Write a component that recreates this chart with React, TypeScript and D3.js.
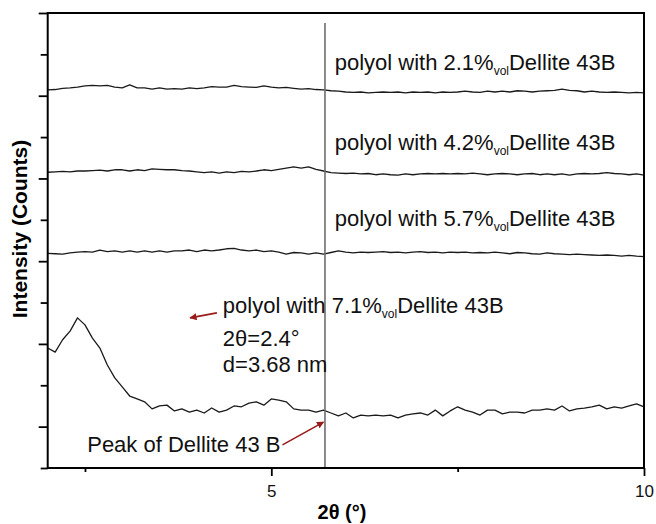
import React, { useEffect, useRef } from "react";
import * as d3 from "d3";

// 2theta grid (degrees)
const twoTheta: number[] = d3.range(81).map((i) => +(2 + i * 0.1).toFixed(1));

// intensities (counts, offset traces)
const vol21 = [
  914, 915, 918, 919, 921, 924, 925, 924, 925, 921, 919, 926, 919, 919, 916, 919, 916, 917, 916, 919,
  917, 919, 922, 921, 921, 925, 922, 921, 920, 924, 921, 919, 920, 918, 916, 917, 915, 914, 912, 911,
  909, 908, 909, 907, 908, 909, 908, 909, 907, 909, 908, 909, 907, 909, 908, 909, 911, 909, 908, 911,
  909, 911, 909, 912, 911, 909, 911, 912, 913, 916, 913, 912, 909, 911, 909, 908, 909, 908, 907, 908,
  907,
];
const vol42 = [
  715, 716, 717, 716, 718, 718, 719, 720, 718, 721, 721, 718, 721, 719, 723, 722, 721, 721, 719, 718,
  716, 714, 716, 713, 716, 714, 717, 716, 718, 721, 719, 722, 725, 728, 725, 728, 722, 718, 714, 713,
  712, 713, 711, 712, 709, 711, 709, 708, 711, 709, 711, 712, 711, 712, 711, 712, 711, 713, 711, 709,
  711, 712, 711, 709, 711, 712, 709, 711, 709, 711, 708, 711, 712, 711, 712, 714, 712, 711, 709, 711,
  708,
];
const vol57 = [
  519, 518, 517, 520, 522, 523, 522, 527, 523, 525, 522, 525, 522, 525, 522, 525, 522, 525, 525, 527,
  523, 527, 525, 527, 530, 531, 527, 525, 527, 523, 525, 522, 517, 521, 520, 517, 520, 517, 521, 525,
  522, 520, 522, 521, 522, 523, 521, 522, 520, 522, 523, 521, 522, 520, 522, 521, 522, 520, 521, 520,
  522, 520, 518, 521, 520, 518, 517, 520, 518, 517, 516, 517, 516, 515, 514, 515, 514, 512, 514, 512,
  511,
];
const vol71 = [
  290, 280, 310, 331, 363, 346, 314, 290, 249, 218, 196, 174, 167, 160, 143, 150, 152, 138, 143, 135,
  140, 133, 145, 135, 140, 150, 148, 157, 160, 152, 167, 164, 160, 143, 140, 140, 135, 140, 133, 126,
  133, 121, 128, 126, 128, 126, 128, 121, 128, 131, 133, 128, 140, 126, 138, 148, 140, 135, 128, 140,
  140, 131, 135, 135, 133, 140, 140, 143, 140, 150, 138, 143, 145, 148, 152, 143, 148, 145, 150, 155,
  148,
];

const traces = [vol21, vol42, vol57, vol71];
const loadings = ["2.1", "4.2", "5.7", "7.1"];
// label anchor [2theta, counts] for each trace label
const labelX = [5.85, 5.85, 5.85, 4.35];
const labelY = [962, 770, 586, 375];

const peakLine = 5.72;
const peakText = ["2θ=2.4°", "d=3.68 nm"];

const W = 656;
const H = 524;
const FONT = "'Liberation Sans', Arial, Helvetica, sans-serif";
const ARROW = "#9b1b1b";

export default function App() {
  const ref = useRef<SVGSVGElement>(null);

  useEffect(() => {
    const svg = d3.select(ref.current);
    svg.selectAll("*").remove();

    const x = d3.scaleLinear().domain([2, 10]).range([47.7, 644]);
    const y = d3.scaleLinear().domain([0, 1100]).range([468, 13]);

    svg
      .append("defs")
      .append("marker")
      .attr("id", "head")
      .attr("viewBox", "0 0 10 10")
      .attr("refX", 9)
      .attr("refY", 5)
      .attr("markerWidth", 4.5)
      .attr("markerHeight", 4.5)
      .attr("orient", "auto")
      .attr("markerUnits", "strokeWidth")
      .append("path")
      .attr("d", "M0,0L10,5L0,10Z")
      .attr("fill", ARROW);

    // traces
    const line = d3
      .line<number>()
      .x((d, i) => x(twoTheta[i]))
      .y((d) => y(d));

    svg
      .append("g")
      .selectAll("path")
      .data(traces)
      .enter()
      .append("path")
      .attr("d", (d) => line(d))
      .attr("fill", "none")
      .attr("stroke", "#1a1a1a")
      .attr("stroke-width", 1.3)
      .attr("stroke-linejoin", "round");

    // vertical marker line
    svg
      .append("line")
      .attr("x1", x(peakLine))
      .attr("x2", x(peakLine))
      .attr("y1", y(1076))
      .attr("y2", y(0))
      .attr("stroke", "#6e6e6e")
      .attr("stroke-width", 1.6);

    // frame
    svg
      .append("rect")
      .attr("x", x(2))
      .attr("y", y(1100))
      .attr("width", x(10) - x(2))
      .attr("height", y(0) - y(1100))
      .attr("fill", "none")
      .attr("stroke", "#000")
      .attr("stroke-width", 2);

    // y axis ticks
    const yMinor = d3.range(0, 1101, 200);
    const yMajor = d3.range(100, 1101, 200);
    const yAxisMinor = svg
      .append("g")
      .attr("transform", `translate(${x(2)},0)`)
      .call(d3.axisLeft(y).tickValues(yMinor).tickSize(7).tickFormat(() => ""));
    const yAxisMajor = svg
      .append("g")
      .attr("transform", `translate(${x(2)},0)`)
      .call(d3.axisLeft(y).tickValues(yMajor).tickSize(9).tickFormat(() => ""));

    // x axis ticks
    const xAxisMinor = svg
      .append("g")
      .attr("transform", `translate(0,${y(0)})`)
      .call(d3.axisBottom(x).tickValues([2.5, 7.5]).tickSize(4).tickFormat(() => ""));
    const xAxisMajor = svg
      .append("g")
      .attr("transform", `translate(0,${y(0)})`)
      .call(d3.axisBottom(x).tickValues([5, 10]).tickSize(8).tickPadding(9).tickFormat(d3.format("d")));

    [yAxisMinor, yAxisMajor, xAxisMinor, xAxisMajor].forEach((g) => {
      g.select(".domain").remove();
      g.selectAll(".tick line").attr("stroke", "#000").attr("stroke-width", 1.8);
      g.selectAll(".tick text").attr("font-family", FONT).attr("font-size", 17).attr("fill", "#111");
    });

    // axis titles
    svg
      .append("text")
      .attr("x", 342)
      .attr("y", 519)
      .attr("text-anchor", "middle")
      .attr("font-family", FONT)
      .attr("font-weight", "bold")
      .attr("font-size", 20)
      .text("2θ (°)");

    svg
      .append("text")
      .attr("transform", "translate(27,229) rotate(-90)")
      .attr("text-anchor", "middle")
      .attr("font-family", FONT)
      .attr("font-weight", "bold")
      .attr("font-size", 21)
      .text("Intensity (Counts)");

    // trace labels
    loadings.forEach((p, i) => {
      const t = svg
        .append("text")
        .attr("x", x(labelX[i]))
        .attr("y", y(labelY[i]))
        .attr("font-family", FONT)
        .attr("font-size", 22)
        .attr("fill", "#111");
      t.append("tspan").text(`polyol with ${p}%`);
      t.append("tspan").attr("font-size", 12).attr("dy", 5).text("vol");
      t.append("tspan").attr("dy", -5).text("Dellite 43B");
    });

    peakText.forEach((s, i) => {
      svg
        .append("text")
        .attr("x", x(4.35))
        .attr("y", y(i === 0 ? 295 : 232))
        .attr("font-family", FONT)
        .attr("font-size", 22)
        .attr("fill", "#111")
        .text(s);
    });

    svg
      .append("text")
      .attr("x", x(2.53))
      .attr("y", y(39))
      .attr("font-family", FONT)
      .attr("font-size", 22)
      .attr("fill", "#111")
      .text("Peak of Dellite 43 B");

    // arrows
    const arrows = [
      [4.27, 375, 3.91, 363],
      [5.15, 56, 5.7, 111],
    ];
    svg
      .append("g")
      .selectAll("line")
      .data(arrows)
      .enter()
      .append("line")
      .attr("x1", (d) => x(d[0]))
      .attr("y1", (d) => y(d[1]))
      .attr("x2", (d) => x(d[2]))
      .attr("y2", (d) => y(d[3]))
      .attr("stroke", ARROW)
      .attr("stroke-width", 1.6)
      .attr("marker-end", "url(#head)");
  }, []);

  return (
    <div style={{ position: "absolute", left: 0, top: 0, background: "#fff" }}>
      <svg ref={ref} width={W} height={H} style={{ display: "block" }} />
    </div>
  );
}
